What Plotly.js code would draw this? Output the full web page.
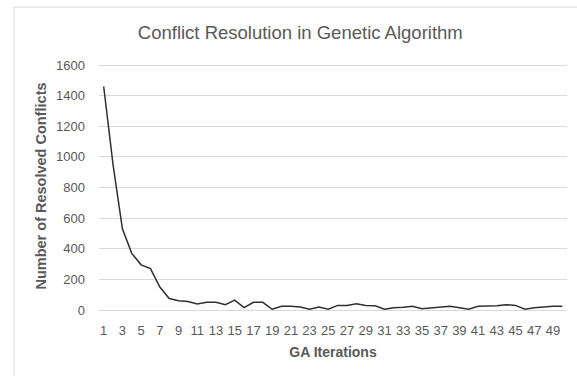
<!DOCTYPE html>
<html>
<head>
<meta charset="utf-8">
<script src="https://cdn.plot.ly/plotly-3.0.1.min.js"></script>
<style>html,body{margin:0;padding:0;background:#fff;}#chart{width:577px;height:376px;}</style>
</head>
<body>
<div id="chart"></div>
<script>
const iterations = Array.from({length: 50}, (_, i) => String(i + 1));
const resolvedConflicts = [
  1460, 950, 530, 370, 295, 270, 150, 75, 60, 55,
  40, 50, 50, 35, 65, 15, 50, 50, 5, 25,
  25, 20, 5, 20, 5, 30, 30, 40, 30, 28,
  5, 15, 18, 25, 8, 15, 20, 25, 15, 5,
  25, 25, 28, 35, 30, 5, 15, 20, 25, 25
];
const xTickLabels = iterations.filter((_, i) => i % 2 === 0);
const yTicks = [0, 200, 400, 600, 800, 1000, 1200, 1400, 1600];

const W = 577, H = 376;
const L = 98.5, R = 567, B = 310, T = 62.3;
const pw = R - L, ph = B - T;
const px = v => (v - L) / pw;
const py = v => (B - v) / ph;

const trace = {
  x: iterations,
  y: resolvedConflicts,
  type: 'scatter',
  mode: 'lines',
  line: {color: '#303030', width: 1.5},
  hoverinfo: 'x+y'
};

const layout = {
  width: W, height: H,
  margin: {l: L, r: W - R, t: T, b: H - B, pad: 0},
  paper_bgcolor: '#ffffff',
  plot_bgcolor: '#ffffff',
  font: {family: 'Liberation Sans, Arial, sans-serif', color: '#595959', size: 12},
  showlegend: false,
  title: {
    text: 'Conflict Resolution in Genetic Algorithm',
    font: {size: 18.5, color: '#595959'},
    x: px(300), xref: 'paper', xanchor: 'center',
    y: 1 - 33 / H, yref: 'container', yanchor: 'middle'
  },
  xaxis: {
    type: 'category',
    range: [-0.5, 49.5],
    tickmode: 'array',
    tickvals: xTickLabels,
    ticktext: xTickLabels,
    tickangle: 0,
    showgrid: false,
    showline: false,
    ticks: '',
    zeroline: false,
    ticklabelstandoff: 11,
    tickfont: {size: 13, color: '#595959'},
    title: {text: '<b>GA Iterations</b>', font: {size: 14, color: '#595959'}, standoff: 10}
  },
  yaxis: {
    range: [0, 1620],
    tickmode: 'array',
    tickvals: yTicks,
    ticktext: yTicks.map(String),
    showgrid: true,
    gridcolor: '#d9d9d9',
    gridwidth: 1,
    zeroline: true,
    zerolinecolor: '#d9d9d9',
    zerolinewidth: 1,
    showline: false,
    ticks: '',
    ticklabelstandoff: 13,
    tickfont: {size: 13, color: '#595959'},
    title: {text: '<b>Number of Resolved Conflicts</b>', font: {size: 14.5, color: '#595959'}, standoff: 6}
  },
  shapes: [
    {type: 'line', xref: 'paper', yref: 'paper', x0: px(13.5), x1: px(577), y0: py(7.5), y1: py(7.5), line: {color: '#d9d9d9', width: 1}},
    {type: 'line', xref: 'paper', yref: 'paper', x0: px(13.5), x1: px(13.5), y0: py(7.5), y1: py(376), line: {color: '#d9d9d9', width: 1}}
  ]
};

Plotly.newPlot('chart', [trace], layout, {displayModeBar: false, staticPlot: true});
</script>
</body>
</html>
